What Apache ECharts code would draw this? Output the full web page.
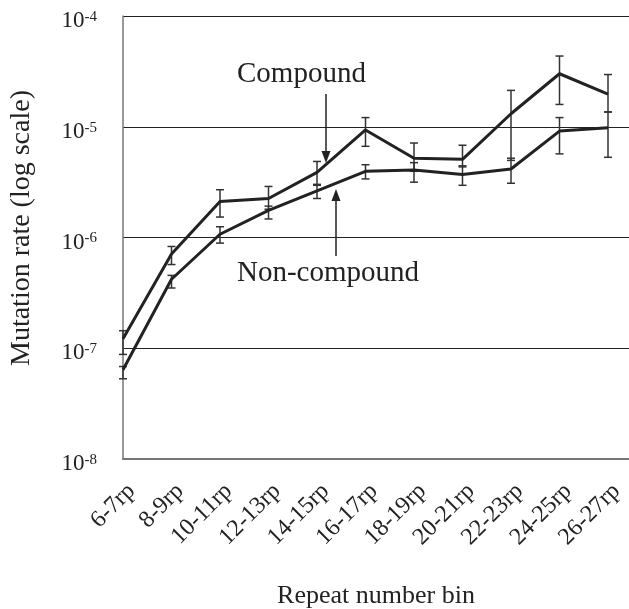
<!DOCTYPE html>
<html>
<head>
<meta charset="utf-8">
<script src="https://cdn.jsdelivr.net/npm/echarts@6/dist/echarts.min.js"></script>
<style>
html,body{margin:0;padding:0;background:#fff;}
#c{width:629px;height:609px;}
</style>
</head>
<body>
<div id="c"></div>
<script>
const categories = ['6-7rp','8-9rp','10-11rp','12-13rp','14-15rp','16-17rp','18-19rp','20-21rp','22-23rp','24-25rp','26-27rp'];
const compound     = [1.22e-7, 7.1e-7, 2.11e-6, 2.25e-6, 3.87e-6, 9.35e-6, 5.2e-6, 5.08e-6, 1.31e-5, 3.01e-5, 1.97e-5];
const compoundLow  = [8.8e-8, 5.7e-7, 1.53e-6, 1.8e-6, 2.96e-6, 6.66e-6, 3.96e-6, 4.34e-6, 4.97e-6, 1.59e-5, 1.36e-5];
const compoundHigh = [1.44e-7, 8.3e-7, 2.7e-6, 2.89e-6, 4.86e-6, 1.21e-5, 7.13e-6, 6.81e-6, 2.13e-5, 4.35e-5, 2.96e-5];
const nonCompound     = [6.4e-8, 4.2e-7, 1.07e-6, 1.76e-6, 2.64e-6, 3.96e-6, 4.06e-6, 3.7e-6, 4.15e-6, 9.14e-6, 9.78e-6];
const nonCompoundLow  = [5.3e-8, 3.5e-7, 8.9e-7, 1.47e-6, 2.25e-6, 3.38e-6, 3.16e-6, 2.96e-6, 3.09e-6, 5.69e-6, 5.3e-6];
const nonCompoundHigh = [6.84e-8, 4.55e-7, 1.25e-6, 1.92e-6, 3.02e-6, 4.54e-6, 4.74e-6, 4.44e-6, 5.2e-6, 1.21e-5, 1.36e-5];
const yTicks = [1e-8, 1e-7, 1e-6, 1e-5, 1e-4];

const FONT = '"Liberation Serif", "Times New Roman", serif';
const chart = echarts.init(document.getElementById('c'));

function pairs(arr){ return arr.map((v,i)=>[i,v]); }
function errData(lo,hi){ return lo.map((v,i)=>[i,v,hi[i]]); }

function errRender(params, api){
  const x = api.value(0);
  const lo = api.coord([x, api.value(1)]);
  const hi = api.coord([x, api.value(2)]);
  const cw = 4;
  const style = {stroke:'#333', lineWidth:1.5, fill:null};
  return {type:'group', children:[
    {type:'line', shape:{x1:lo[0],y1:lo[1],x2:hi[0],y2:hi[1]}, style:style},
    {type:'line', shape:{x1:lo[0]-cw,y1:lo[1],x2:lo[0]+cw,y2:lo[1]}, style:style},
    {type:'line', shape:{x1:hi[0]-cw,y1:hi[1],x2:hi[0]+cw,y2:hi[1]}, style:style}
  ]};
}

const gridLeft = 123, gridRight = 0, gridTop = 16, gridBottom = 150;
const step = (608 - gridLeft) / 10;
const xMax = (629 - gridLeft) / step;

function arrow(x, y1, y2){
  const dir = y2 > y1 ? 1 : -1;
  const hl = 12, hw = 4.5;
  return [
    {type:'line', shape:{x1:x,y1:y1,x2:x,y2:y2 - dir*hl}, style:{stroke:'#222', lineWidth:1.5}},
    {type:'polygon', shape:{points:[[x,y2],[x-hw,y2-dir*hl],[x+hw,y2-dir*hl]]}, style:{fill:'#222'}}
  ];
}

chart.setOption({
  animation:false,
  backgroundColor:'#fff',
  grid:{left:gridLeft, right:gridRight, top:gridTop, bottom:gridBottom, containLabel:false, outerBoundsMode:'none'},
  xAxis:{
    type:'value', min:0, max:xMax, interval:1,
    name:'Repeat number bin', nameLocation:'middle', nameGap:124,
    nameTextStyle:{fontFamily:FONT, fontSize:26, color:'#222'},
    axisLine:{show:true, lineStyle:{color:'#777', width:2}},
    axisTick:{show:false},
    splitLine:{show:false},
    axisLabel:{
      rotate:45, margin:20, fontFamily:FONT, fontSize:24, color:'#222',
      verticalAlign:'top',
      showMaxLabel:false,
      formatter:function(v){ const i=Math.round(v); return (Math.abs(v-i)<1e-6 && categories[i]) ? categories[i] : ''; }
    }
  },
  yAxis:{
    type:'log', logBase:10, min:1e-8, max:1e-4,
    axisLine:{show:true, lineStyle:{color:'#777', width:1.5}},
    axisTick:{show:false},
    splitLine:{show:true, lineStyle:{color:'#222', width:1}},
    axisLabel:{
      margin:26, color:'#222', padding:[10,0,0,0],
      formatter:function(v){ return '{a|10}{b|' + Math.round(Math.log10(v)) + '}'; },
      rich:{
        a:{fontFamily:FONT, fontSize:23, color:'#222', verticalAlign:'bottom'},
        b:{fontFamily:FONT, fontSize:15, color:'#222', verticalAlign:'top'}
      }
    }
  },
  series:[
    {type:'custom', renderItem:errRender, data:errData(compoundLow, compoundHigh), z:2, silent:true},
    {type:'custom', renderItem:errRender, data:errData(nonCompoundLow, nonCompoundHigh), z:2, silent:true},
    {type:'line', data:pairs(compound), symbol:'none', lineStyle:{color:'#222', width:3}, z:3},
    {type:'line', data:pairs(nonCompound), symbol:'none', lineStyle:{color:'#222', width:3}, z:3}
  ],
  graphic:[
    {type:'text', x:22, y:228, rotation:Math.PI/2, style:{text:'Mutation rate (log scale)', font:'28px '+FONT, fill:'#222', textAlign:'center', textVerticalAlign:'middle'}},
    {type:'text', left:237, top:60, style:{text:'Compound', font:'29px '+FONT, fill:'#222'}},
    {type:'text', left:237, top:259, style:{text:'Non-compound', font:'29px '+FONT, fill:'#222'}},
    {type:'group', children: arrow(326, 94, 163)},
    {type:'group', children: arrow(336, 256, 189)}
  ]
});
</script>
</body>
</html>
